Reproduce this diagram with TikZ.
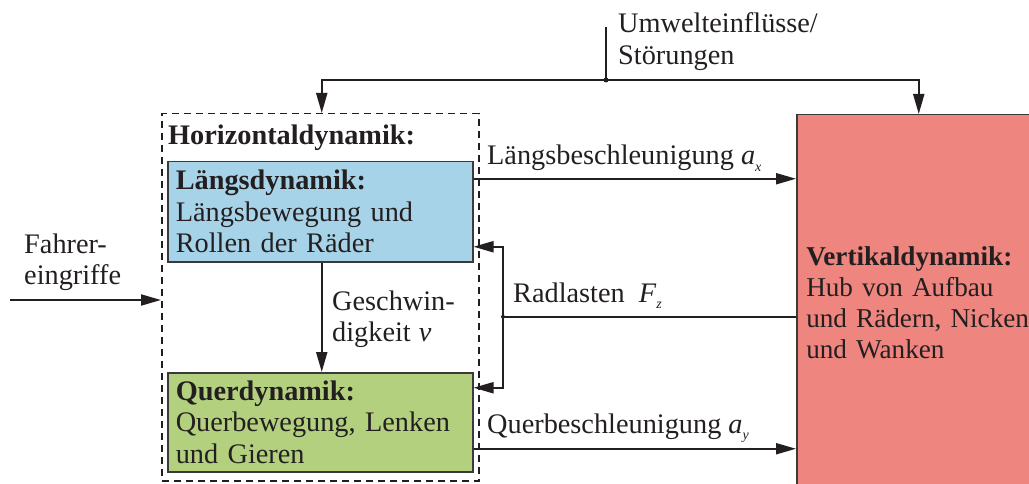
\documentclass[tikz,border=0pt]{standalone}
\usepackage{fontspec}
\setmainfont{Liberation Serif}
\usetikzlibrary{arrows.meta,calc}
\definecolor{bl}{HTML}{A6D3E8}
\definecolor{gr}{HTML}{B3D07F}
\definecolor{rd}{HTML}{EE857F}
\definecolor{ink}{HTML}{231F20}
\definecolor{edge}{HTML}{3A3A3A}
\newcommand{\sub}[1]{\raisebox{-6pt}{\fontsize{14}{14}\selectfont\textit{#1}}}
\begin{document}
\begin{tikzpicture}[x=1pt,y=-1pt,
  txt/.style={font=\fontsize{28.3}{31.5}\selectfont, text=ink},
  lbl/.style={txt, anchor=base west, inner sep=0pt},
  box/.style={txt, draw=edge, line width=1.5pt, anchor=north west, align=left, inner ysep=0pt},
  dbox/.style={draw=ink, line width=1.5pt, dash pattern=on 7pt off 5pt, anchor=north west, inner sep=0pt},
  arr/.style={draw=ink, line width=2pt, -{Triangle[length=20pt,width=11pt]}},
  ln/.style={draw=ink, line width=2pt},
  dot/.style={circle, fill=ink, inner sep=0pt, minimum size=5pt}
]
\useasboundingbox (0,0) rectangle (1029,484);
% boxes
\node[dbox, minimum width=317pt, minimum height=367pt] (hd) at (161,113) {};
\node[box, fill=bl, minimum width=305pt, minimum height=100pt, text width=289pt, inner xsep=8pt] (ld) at (167,161)
  {\textbf{Längsdynamik:}\\Längsbewegung und\\Rollen der Räder};
\node[box, fill=gr, minimum width=305pt, minimum height=99pt, text width=289pt, inner xsep=8pt] (qd) at (167,372)
  {\textbf{Querdynamik:}\\Querbewegung, Lenken\\und Gieren};
\node[box, fill=rd, font=\fontsize{27.2}{31}\selectfont, minimum width=260pt, minimum height=376pt, text width=241pt, inner xsep=9.5pt] (vd) at (796,114)
  {\textbf{Vertikaldynamik:}\\Hub von Aufbau\\und Rädern, Nicken\\und Wanken};
% labels
\node[lbl] (hdl) at (168,145) {\textbf{Horizontaldynamik:}};
\node[lbl] (ul) at (618,33) {\vtop{\hbox{Umwelteinflüsse/}\hbox{Störungen}}};
\node[lbl] (fl) at (24,253) {\vtop{\hbox{Fahrer-}\hbox{eingriffe}}};
\node[lbl] (gl) at (332,310) {\vtop{\hbox{Geschwin-}\hbox{digkeit\hspace{8pt}\textit{v}}}};
\node[lbl] (lb) at (487,165) {Längsbeschleunigung \textit{a}\sub{x}};
\node[lbl] (rl) at (513,302) {Radlasten\hspace{14pt}\textit{F}\sub{z}};
\node[lbl] (qb) at (487,433) {Querbeschleunigung \textit{a}\sub{y}};
% disturbance
\coordinate (u) at (606,27);
\node[dot] (j) at (606,80) {};
\draw[ln] (u) -- (j.center);
\draw[arr] (j.center) -| ([xshift=1.5pt]hd.north);
\draw[arr] (j.center) -| ([xshift=-8pt]vd.north);
% driver input
\coordinate (f0) at (10,300);
\draw[arr] (f0) -- (f0 -| hd.west);
% speed
\draw[arr] ([xshift=1.5pt]ld.south) -- ([xshift=1.5pt]qd.north);
% longitudinal acceleration
\coordinate (a1) at ([yshift=33pt]ld.east);
\draw[arr] (a1) -- (a1 -| vd.west);
% lateral acceleration
\coordinate (a2) at ([yshift=-26.5pt]qd.east);
\draw[arr] (a2) -- (a2 -| vd.west);
% wheel loads
\coordinate (rz) at ([yshift=-14pt]vd.west);
\node[dot, minimum size=4pt] (rj) at (rz -| 503,0) {};
\draw[ln] (rz) -- (rj.center);
\draw[arr] (rj.center) |- ([yshift=-35pt]ld.east);
\draw[arr] (rj.center) |- ([yshift=34.5pt]qd.east);
\end{tikzpicture}
\end{document}
